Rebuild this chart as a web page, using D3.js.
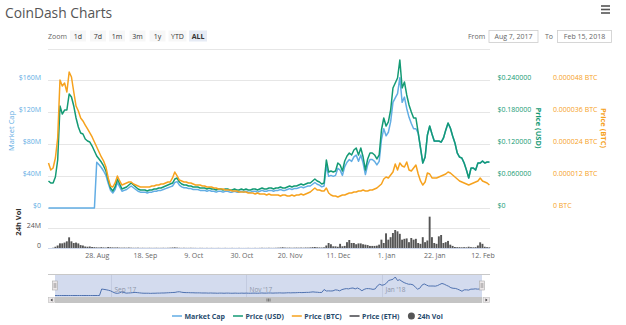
<!DOCTYPE html>
<html>
<head>
<meta charset="utf-8">
<script src="https://cdn.jsdelivr.net/npm/d3@7"></script>
<style>
  body { margin: 0; background: #fff; }
  svg { display: block; font-family: "Open Sans", sans-serif; }
</style>
</head>
<body>
<script>
const WIDTH = 626;
const HEIGHT = 325;

const START = new Date(2017, 7, 7);
const END = new Date(2018, 1, 15);

// one entry per day, Aug 7 2017 .. Feb 15 2018
var dates = d3.timeDay.range(START, d3.timeDay.offset(END, 1));

// market cap, $M
var marketCap = [
    0, 0, 0, 0, 0, 0, 0, 0, 0, 0,
    0, 0, 0, 0, 0, 0, 0, 0, 0, 0,
    0, 57.4, 54.1, 50.8, 46.4, 40.9, 30.9, 22.1, 18.8, 23.2,
    32.0, 26.5, 21.0, 22.1, 23.2, 25.4, 27.6, 25.4, 23.2, 21.0,
    19.9, 19.9, 19.9, 18.8, 19.9, 19.9, 21.0, 21.0, 22.1, 22.1,
    23.2, 24.3, 25.4, 26.5, 27.6, 32.0, 33.1, 28.7, 26.5, 25.4,
    25.4, 24.3, 24.3, 23.2, 23.2, 23.2, 22.1, 22.1, 22.1, 21.0,
    22.1, 21.0, 21.0, 19.9, 21.0, 21.0, 19.9, 21.0, 21.0, 19.9,
    19.9, 21.0, 19.9, 19.9, 21.0, 19.9, 21.0, 19.9, 19.9, 21.0,
    21.0, 19.9, 21.0, 22.1, 21.0, 21.0, 22.1, 22.1, 21.0, 22.1,
    22.1, 23.2, 22.1, 22.1, 23.2, 24.3, 23.2, 24.3, 24.3, 25.4,
    26.5, 25.4, 26.5, 27.6, 27.6, 29.8, 32.0, 29.8, 28.7, 26.5,
    27.6, 53.0, 39.7, 40.9, 39.7, 40.9, 49.7, 47.5, 40.9, 51.9,
    57.4, 60.8, 58.5, 64.0, 66.3, 58.5, 66.3, 56.3, 42.0, 54.1,
    60.8, 60.8, 58.5, 54.1, 58.5, 86.1, 99.4, 90.5, 95.0, 108.2,
    132.5, 138.0, 143.5, 163.4, 132.5, 139.1, 124.8, 113.7, 106.0, 99.4,
    99.4, 93.8, 75.1, 56.3, 63.8, 91.3, 102.5, 92.6, 83.8, 83.8,
    83.8, 82.5, 87.6, 97.6, 106.3, 100.1, 90.0, 81.3, 68.8, 63.8,
    62.6, 56.3, 47.5, 37.5, 50.0, 50.0, 47.5, 56.3, 56.3, 58.8,
    56.3, 57.5, 57.5
];

// price, USD
var priceUsd = [
    0.0508, 0.047, 0.047, 0.0583, 0.0903, 0.1919, 0.1768, 0.1843, 0.1843, 0.2144,
    0.2088, 0.1919, 0.1693, 0.1524, 0.1411, 0.1392, 0.1298, 0.126, 0.1241, 0.1166,
    0.1072, 0.0978, 0.0922, 0.0865, 0.079, 0.0696, 0.0527, 0.0376, 0.032, 0.0395,
    0.0545, 0.0451, 0.0357, 0.0376, 0.0395, 0.0433, 0.047, 0.0433, 0.0395, 0.0357,
    0.0339, 0.0339, 0.0339, 0.032, 0.0339, 0.0339, 0.0357, 0.0357, 0.0376, 0.0376,
    0.0395, 0.0414, 0.0433, 0.0451, 0.047, 0.0545, 0.0564, 0.0489, 0.0451, 0.0433,
    0.0433, 0.0414, 0.0414, 0.0395, 0.0395, 0.0395, 0.0376, 0.0376, 0.0376, 0.0357,
    0.0376, 0.0357, 0.0357, 0.0339, 0.0357, 0.0357, 0.0339, 0.0357, 0.0357, 0.0339,
    0.0339, 0.0357, 0.0339, 0.0339, 0.0357, 0.0339, 0.0357, 0.0339, 0.0339, 0.0357,
    0.0357, 0.0339, 0.0357, 0.0376, 0.0357, 0.0357, 0.0376, 0.0376, 0.0357, 0.0376,
    0.0376, 0.0395, 0.0376, 0.0376, 0.0395, 0.0414, 0.0395, 0.0414, 0.0414, 0.0433,
    0.0451, 0.0433, 0.0451, 0.047, 0.047, 0.0508, 0.0545, 0.0508, 0.0489, 0.0451,
    0.047, 0.0903, 0.0677, 0.0696, 0.0677, 0.0696, 0.0846, 0.0809, 0.0696, 0.0884,
    0.0978, 0.1035, 0.0997, 0.1091, 0.1129, 0.0997, 0.1129, 0.0959, 0.0715, 0.0922,
    0.1035, 0.1035, 0.0997, 0.0922, 0.0997, 0.1467, 0.1693, 0.1542, 0.1618, 0.1843,
    0.2257, 0.2351, 0.2445, 0.2784, 0.2257, 0.237, 0.2126, 0.1937, 0.1806, 0.1693,
    0.1693, 0.1411, 0.1129, 0.0846, 0.0959, 0.1373, 0.1542, 0.1392, 0.126, 0.126,
    0.126, 0.1241, 0.1317, 0.1467, 0.1599, 0.1505, 0.1354, 0.1223, 0.1035, 0.0959,
    0.0941, 0.0846, 0.0715, 0.0564, 0.0752, 0.0752, 0.0715, 0.0846, 0.0846, 0.0884,
    0.0846, 0.0865, 0.0865
];

// price, millionths of a BTC
var priceBtc = [
    16.93, 14.30, 15.05, 18.81, 26.33, 48.15, 45.90, 47.03, 43.64, 51.16,
    49.28, 43.64, 38.37, 36.49, 33.86, 32.73, 31.22, 29.72, 28.22, 26.71,
    24.83, 22.95, 21.07, 19.19, 17.68, 15.42, 11.29, 8.28, 7.90, 9.41,
    12.04, 10.16, 8.65, 9.03, 9.41, 9.78, 9.78, 9.03, 8.65, 8.28,
    7.90, 7.90, 7.90, 7.90, 7.90, 8.28, 8.28, 8.65, 8.65, 9.03,
    9.03, 9.41, 9.78, 9.78, 11.29, 13.54, 12.04, 10.53, 10.16, 9.78,
    9.78, 9.41, 9.41, 9.03, 8.65, 8.65, 8.65, 8.28, 8.28, 7.90,
    7.90, 7.90, 7.52, 7.52, 7.15, 7.15, 7.15, 6.77, 6.77, 6.77,
    6.40, 6.40, 6.40, 6.02, 6.02, 6.02, 6.02, 5.64, 5.64, 5.64,
    5.27, 5.64, 5.27, 5.27, 5.27, 4.89, 5.27, 4.89, 4.89, 4.89,
    4.89, 4.51, 4.89, 4.89, 4.51, 4.51, 4.89, 4.51, 4.89, 4.89,
    5.27, 4.89, 5.27, 5.64, 6.02, 6.77, 7.52, 6.77, 6.77, 6.40,
    6.40, 7.52, 5.64, 4.89, 4.51, 4.51, 4.14, 4.51, 4.89, 4.89,
    5.27, 5.64, 5.64, 6.02, 6.02, 6.40, 6.40, 6.77, 6.40, 6.40,
    6.77, 6.77, 7.15, 7.52, 8.28, 9.03, 10.91, 11.66, 11.29, 12.41,
    13.54, 16.55, 14.30, 16.93, 15.80, 15.42, 17.31, 14.30, 13.92, 15.05,
    16.18, 12.79, 10.16, 8.65, 9.78, 13.17, 12.79, 11.29, 11.29, 11.29,
    11.66, 12.04, 12.41, 12.79, 13.54, 13.17, 12.41, 11.66, 10.91, 10.16,
    9.78, 9.41, 9.03, 8.65, 9.03, 9.41, 9.78, 10.16, 11.29, 10.16,
    9.78, 9.41, 8.65
];

// 24h volume, $M
var volume = [
    0, 0, 0.3, 1.5, 3, 5.6, 5.6, 6.5, 8, 12.8,
    8, 6, 6.5, 5.5, 3.5, 3, 1.8, 1.5, 1.8, 1.2,
    1.0, 0.8, 0.6, 1.0, 0.7, 0.5, 1.2, 0.9, 0.7, 0.6,
    0.8, 0.5, 0.4, 0.5, 0.4, 0.6, 0.4, 0.3, 0.3, 0.4,
    0.2, 0.3, 0.2, 0.2, 0.3, 0.2, 0.2, 0.3, 0.2, 0.2,
    0.3, 0.2, 0.3, 0.4, 0.6, 0.8, 0.5, 0.3, 0.2, 0.3,
    0.2, 0.2, 0.3, 0.2, 0.2, 0.1, 0.2, 0.2, 0.1, 0.2,
    0.1, 0.2, 0.1, 0.1, 0.2, 0.1, 0.1, 0.2, 0.1, 0.1,
    0.2, 0.1, 0.1, 0.2, 0.1, 0.1, 0.1, 0.2, 0.1, 0.1,
    0.2, 0.1, 0.2, 0.3, 0.2, 0.2, 0.3, 0.2, 0.2, 0.3,
    0.4, 0.6, 0.9, 0.5, 0.4, 0.5, 0.3, 0.4, 0.5, 0.4,
    0.5, 0.4, 0.6, 0.5, 0.7, 1.0, 1.2, 0.8, 0.7, 0.6,
    0.8, 3, 6, 4.5, 2, 2, 1.5, 5, 2, 2.5,
    7, 9.6, 6, 6, 4.5, 5.5, 5.5, 4.5, 4, 3.5,
    2.5, 2.5, 2.5, 2.8, 4, 10, 6, 17.6, 10, 13,
    18, 21.6, 20, 17, 10, 11, 11.5, 7, 12, 10,
    11, 6, 5, 13, 7, 9, 37.6, 13, 6, 5,
    14, 15.6, 6, 7, 8.5, 4, 2.5, 1.2, 1.0, 1.0,
    0.8, 1.0, 0.8, 1.5, 1.0, 0.8, 1.0, 3, 6.8, 5,
    1.5, 1, 0.8
];

var mcapTicks = [0, 40, 80, 120, 160];
var usdTicks = [0, 0.06, 0.12, 0.18, 0.24];
var btcTicks = [0, 12, 24, 36, 48];
var volTicks = [0, 24];
var xTickDates = [
    new Date(2017, 7, 28), new Date(2017, 8, 18), new Date(2017, 9, 9),
    new Date(2017, 9, 30), new Date(2017, 10, 20), new Date(2017, 11, 11),
    new Date(2018, 0, 1), new Date(2018, 0, 22), new Date(2018, 1, 12)
];
var navTickDates = [new Date(2017, 8, 1), new Date(2017, 10, 1), new Date(2018, 0, 1)];
var zoomButtons = ['1d', '7d', '1m', '3m', '1y', 'YTD', 'ALL'];
var legendNames = ['Market Cap', 'Price (USD)', 'Price (BTC)', 'Price (ETH)', '24h Vol'];

var C_MCAP = '#62ade4';
var C_USD = '#139a74';
var C_BTC = '#f6a21e';
var C_ETH = '#434348';
var C_VOL = '#555555';
var legendColors = [C_MCAP, C_USD, C_BTC, C_ETH, C_VOL];

var svg = d3.select('body').append('svg')
    .attr('width', WIDTH)
    .attr('height', HEIGHT);

var x = d3.scaleTime().domain([START, END]).range([48.5, 489.4]);
var yMcap = d3.scaleLinear().domain([0, 200]).range([208, 48.5]);
var yUsd = d3.scaleLinear().domain([0, 0.3]).range([208, 48.5]);
var yBtc = d3.scaleLinear().domain([0, 60]).range([208, 48.5]);
var yVol = d3.scaleLinear().domain([0, 48]).range([248, 208]);

// title + menu
svg.append('text')
    .attr('x', 5).attr('y', 17.5)
    .attr('font-size', 13.8)
    .attr('fill', '#555')
    .text('CoinDash Charts');

[6, 9.5, 13].forEach(function (yy) {
    svg.append('rect')
        .attr('x', 601).attr('y', yy - 0.8)
        .attr('width', 9).attr('height', 1.6)
        .attr('fill', '#555');
});

// range selector
svg.append('text')
    .attr('x', 48).attr('y', 38.5)
    .attr('font-size', 7).attr('fill', '#666')
    .text('Zoom');

var btnCenters = [78, 98, 117, 137.5, 157.5, 177.5, 198];
zoomButtons.forEach(function (label, i) {
    var w = label.length > 2 ? 18 : 16;
    svg.append('rect')
        .attr('x', btnCenters[i] - w / 2).attr('y', 30.5)
        .attr('width', w).attr('height', 11)
        .attr('fill', label === 'ALL' ? '#e6ebf5' : '#f7f7f7');
    svg.append('text')
        .attr('x', btnCenters[i]).attr('y', 38.5)
        .attr('text-anchor', 'middle')
        .attr('font-size', 7)
        .attr('font-weight', label === 'ALL' ? 'bold' : 'normal')
        .attr('fill', '#333')
        .text(label);
});

var inputs = [
    {label: 'From', lx: 468, bx: 489, bw: 49, value: 'Aug 7, 2017'},
    {label: 'To', lx: 545, bx: 557.5, bw: 54, value: 'Feb 15, 2018'}
];
inputs.forEach(function (d) {
    svg.append('text')
        .attr('x', d.lx).attr('y', 38.5)
        .attr('font-size', 7).attr('fill', '#666')
        .text(d.label);
    svg.append('rect')
        .attr('x', d.bx).attr('y', 30.5)
        .attr('width', d.bw).attr('height', 12)
        .attr('fill', '#fff').attr('stroke', '#ccc').attr('stroke-width', 0.8);
    svg.append('text')
        .attr('x', d.bx + d.bw / 2).attr('y', 38.8)
        .attr('text-anchor', 'middle')
        .attr('font-size', 7).attr('fill', '#666')
        .text(d.value);
});

// grid lines
svg.append('g').selectAll('line')
    .data(mcapTicks.concat([200]))
    .enter().append('line')
    .attr('x1', 48).attr('x2', 490)
    .attr('y1', function (d) { return Math.round(yMcap(d)) + 0.5; })
    .attr('y2', function (d) { return Math.round(yMcap(d)) + 0.5; })
    .attr('stroke', '#e6e6e6');

svg.append('g').selectAll('line')
    .data(volTicks.concat([48]))
    .enter().append('line')
    .attr('x1', 48).attr('x2', 490)
    .attr('y1', function (d) { return Math.round(yVol(d)) + 0.5; })
    .attr('y2', function (d) { return Math.round(yVol(d)) + 0.5; })
    .attr('stroke', function (d) { return d === 0 ? '#ccd6eb' : '#e6e6e6'; });

var styleAxis = function (g, color, size) {
    g.select('.domain').remove();
    g.attr('font-family', null).attr('font-size', null);
    g.selectAll('text')
        .attr('font-size', size)
        .attr('fill', color)
        .attr('y', -3);
};

// y axes
svg.append('g')
    .attr('transform', 'translate(41,0)')
    .call(d3.axisLeft(yMcap).tickValues(mcapTicks).tickSize(0).tickPadding(0)
        .tickFormat(function (d) { return d ? '$' + d + 'M' : '$0'; }))
    .call(styleAxis, C_MCAP, 7);

svg.append('g')
    .attr('transform', 'translate(497.5,0)')
    .call(d3.axisRight(yUsd).tickValues(usdTicks).tickSize(0).tickPadding(0)
        .tickFormat(function (d) { return d ? '$' + d.toFixed(6) : '$0'; }))
    .call(styleAxis, C_USD, 7);

svg.append('g')
    .attr('transform', 'translate(553,0)')
    .call(d3.axisRight(yBtc).tickValues(btcTicks).tickSize(0).tickPadding(0)
        .tickFormat(function (d) { return d ? (d * 1e-6).toFixed(6) + ' BTC' : '0 BTC'; }))
    .call(styleAxis, C_BTC, 7);

svg.append('g')
    .attr('transform', 'translate(41,0)')
    .call(d3.axisLeft(yVol).tickValues(volTicks).tickSize(0).tickPadding(0)
        .tickFormat(function (d) { return d ? d + 'M' : '0'; }))
    .call(styleAxis, '#555', 7);

// x axis
var xAxisG = svg.append('g')
    .attr('transform', 'translate(0,248)')
    .call(d3.axisBottom(x).tickValues(xTickDates).tickSize(0).tickPadding(5)
        .tickFormat(d3.timeFormat('%-d. %b')));
xAxisG.select('.domain').remove();
xAxisG.attr('font-family', null).attr('font-size', null);
xAxisG.selectAll('text').attr('font-size', 7).attr('fill', '#666');

// axis titles
var axisTitle = function (txt, tx, ty, rot, color, weight) {
    svg.append('text')
        .attr('transform', 'translate(' + tx + ',' + ty + ') rotate(' + rot + ')')
        .attr('text-anchor', 'middle')
        .attr('font-size', 7.5)
        .attr('font-weight', weight || 'normal')
        .attr('fill', color)
        .text(txt);
};
axisTitle('Market Cap', 14, 131, -90, C_MCAP);
axisTitle('24h Vol', 20.5, 222, -90, '#333', 'bold');
axisTitle('Price (USD)', 536, 128, 90, C_USD, 'bold');
axisTitle('Price (BTC)', 601, 128, 90, C_BTC, 'bold');

// volume columns
svg.append('g').selectAll('rect')
    .data(volume)
    .enter().append('rect')
    .attr('x', function (d, i) { return x(dates[i]) - 1; })
    .attr('width', 1.9)
    .attr('y', function (d) { return yVol(d); })
    .attr('height', function (d) { return 248 - yVol(d); })
    .attr('fill', C_VOL);

// price lines
var makeLine = function (scale) {
    return d3.line()
        .x(function (d, i) { return x(dates[i]); })
        .y(function (d) { return scale(d); });
};

var lines = svg.append('g')
    .attr('fill', 'none')
    .attr('stroke-width', 1.5)
    .attr('stroke-linejoin', 'round');

lines.append('path').attr('d', makeLine(yMcap)(marketCap)).attr('stroke', C_MCAP);
lines.append('path').attr('d', makeLine(yUsd)(priceUsd)).attr('stroke', C_USD);
lines.append('path').attr('d', makeLine(yBtc)(priceBtc)).attr('stroke', C_BTC);

// navigator
var NAV_TOP = 274, NAV_BOTTOM = 297;
var xNav = d3.scaleTime().domain([START, END]).range([55, 482]);
var yNav = d3.scaleLinear().domain([0, d3.max(marketCap)]).range([295.5, 277]);

svg.append('rect')
    .attr('x', 55).attr('y', NAV_TOP)
    .attr('width', 427).attr('height', NAV_BOTTOM - NAV_TOP)
    .attr('fill', '#d3dbee');

navTickDates.forEach(function (d) {
    var px = Math.round(xNav(d)) + 0.5;
    svg.append('line')
        .attr('x1', px).attr('x2', px)
        .attr('y1', NAV_TOP).attr('y2', NAV_BOTTOM)
        .attr('stroke', '#c3cbe0');
    svg.append('text')
        .attr('x', px + 3).attr('y', 292)
        .attr('font-size', 6.5).attr('fill', '#8e96a8')
        .text(d3.timeFormat("%b '%y")(d));
});

svg.append('path')
    .attr('d', d3.line()
        .x(function (d, i) { return xNav(dates[i]); })
        .y(function (d) { return yNav(d); })(marketCap))
    .attr('fill', 'none')
    .attr('stroke', '#4f72b0')
    .attr('stroke-width', 1);

svg.append('line')
    .attr('x1', 48).attr('x2', 490)
    .attr('y1', NAV_TOP + 0.5).attr('y2', NAV_TOP + 0.5)
    .attr('stroke', '#c8c8c8');

// scrollbar
svg.append('rect')
    .attr('x', 48).attr('y', NAV_BOTTOM)
    .attr('width', 442).attr('height', 6)
    .attr('fill', '#eeeeee');
svg.append('rect')
    .attr('x', 55).attr('y', NAV_BOTTOM)
    .attr('width', 427).attr('height', 6)
    .attr('fill', '#c4c4c4');
[-1.5, 0, 1.5].forEach(function (dx) {
    svg.append('line')
        .attr('x1', 268.5 + dx).attr('x2', 268.5 + dx)
        .attr('y1', NAV_BOTTOM + 1.5).attr('y2', NAV_BOTTOM + 4.5)
        .attr('stroke', '#444').attr('stroke-width', 0.6);
});
[[48, 1], [483, -1]].forEach(function (b) {
    svg.append('rect')
        .attr('x', b[0] + 0.5).attr('y', NAV_BOTTOM + 0.5)
        .attr('width', 6).attr('height', 5)
        .attr('fill', '#ebe7e8').attr('stroke', '#bbb').attr('stroke-width', 0.5);
    var cx = b[0] + 3.5;
    svg.append('path')
        .attr('d', 'M' + (cx + b[1]) + ',' + (NAV_BOTTOM + 1.5) + 'L' + (cx - b[1]) + ',' + (NAV_BOTTOM + 3) +
            'L' + (cx + b[1]) + ',' + (NAV_BOTTOM + 4.5) + 'Z')
        .attr('fill', '#333');
});

// navigator handles
[55, 482].forEach(function (hx) {
    svg.append('rect')
        .attr('x', hx - 2.5).attr('y', 281)
        .attr('width', 5).attr('height', 9)
        .attr('fill', '#ebe7e8').attr('stroke', '#aaa').attr('stroke-width', 0.6);
    [-0.8, 0.8].forEach(function (dx) {
        svg.append('line')
            .attr('x1', hx + dx).attr('x2', hx + dx)
            .attr('y1', 283).attr('y2', 288)
            .attr('stroke', '#666').attr('stroke-width', 0.5);
    });
});

// legend
var legend = svg.append('g')
    .attr('font-size', 7)
    .attr('font-weight', 'bold');
var lx = 172;
var LY = 316;
legendNames.forEach(function (name, i) {
    var isVol = name === '24h Vol';
    if (isVol) {
        legend.append('circle')
            .attr('cx', lx + 4).attr('cy', LY)
            .attr('r', 3.5).attr('fill', legendColors[i]);
    } else {
        legend.append('line')
            .attr('x1', lx).attr('x2', lx + 10)
            .attr('y1', LY).attr('y2', LY)
            .attr('stroke', legendColors[i]).attr('stroke-width', 1.5);
    }
    var t = legend.append('text')
        .attr('x', lx + (isVol ? 10 : 12.5)).attr('y', LY + 2.5)
        .attr('fill', '#274b6d')
        .text(name);
    lx += 12.5 + t.node().getComputedTextLength() + 8;
});
</script>
</body>
</html>
